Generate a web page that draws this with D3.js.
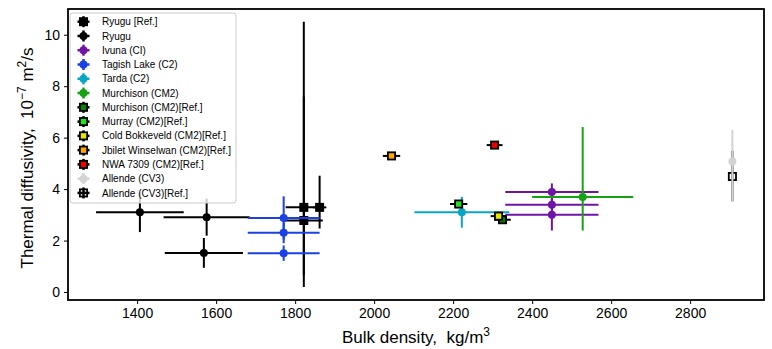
<!DOCTYPE html>
<html>
<head>
<meta charset="utf-8">
<script src="https://cdn.jsdelivr.net/npm/d3@7"></script>
<style>
  body { margin: 0; background: #fff; }
  svg { display: block; font-family: "Liberation Sans", Arial, sans-serif; }
</style>
</head>
<body>
<div id="chart"></div>
<script>
// each point: [x, y, xMinus, xPlus, yMinus, yPlus]
const ryuguRef = [[1822, 3.29, 46, 46, 3.09, 7.21], [1822, 2.78, 48, 48, 2.13, 4.82], [1862, 3.29, 17, 17, 0.82, 1.23]];
const ryugu = [[1407, 3.1, 111, 111, 0.77, 0.77], [1576, 2.91, 109, 109, 0.72, 0.72], [1569, 1.52, 99, 99, 0.58, 0.58]];
const ivuna = [[2450, 3.89, 118, 118, 0.33, 0.33], [2450, 3.39, 118, 118, 0.3, 0.3], [2450, 3.0, 118, 118, 0.61, 0.61]];
const tagishLake = [[1771, 2.88, 91, 91, 0.84, 0.84], [1771, 2.30, 91, 91, 0.4, 0.4], [1771, 1.51, 91, 91, 0.3, 0.3]];
const tarda = [[2222, 3.1, 120, 120, 0.6, 0.6]];
const murchison = [[2528, 3.69, 128, 128, 1.3, 2.72]];
const murchisonRef = [[2325, 2.81, 21, 21, 0, 0]];
const murrayRef = [[2214, 3.42, 22, 22, 0, 0]];
const coldBokkeveldRef = [[2315, 2.95, 20, 20, 0, 0]];
const jbiletRef = [[2044, 5.29, 22, 22, 0, 0]];
const nwa7309Ref = [[2305, 5.71, 20, 20, 0, 0]];
const allende = [[2907, 5.07, 0, 0, 1.57, 1.23]];
const allendeRef = [[2907, 4.49, 0, 0, 0.96, 1.0]];

const seriesNames = ["Ryugu [Ref.]", "Ryugu", "Ivuna (CI)", "Tagish Lake (C2)", "Tarda (C2)", "Murchison (CM2)",
  "Murchison (CM2)[Ref.]", "Murray (CM2)[Ref.]", "Cold Bokkeveld (CM2)[Ref.]", "Jbilet Winselwan (CM2)[Ref.]",
  "NWA 7309 (CM2)[Ref.]", "Allende (CV3)", "Allende (CV3)[Ref.]"];
const seriesData = [ryuguRef, ryugu, ivuna, tagishLake, tarda, murchison, murchisonRef, murrayRef,
  coldBokkeveldRef, jbiletRef, nwa7309Ref, allende, allendeRef];

const xTicks = [1400, 1600, 1800, 2000, 2200, 2400, 2600, 2800];
const yTicks = [0, 2, 4, 6, 8, 10];

// styles
const barColor = ["#000", "#000", "#7014a8", "#1a40e6", "#08a6c4", "#15a315", "#000", "#000", "#000", "#000", "#000", "#d3d3d3", "#000"];
const markFill = ["#000", "#000", "#7014a8", "#1a40e6", "#08a6c4", "#15a315", "#0a800a", "#22e022", "#e6e600", "#ffa500", "#f00000", "#d3d3d3", "none"];
const isRef = seriesNames.map(d => d.indexOf("Ref") >= 0);
// draw Allende ref before Allende so the grey bar shows through
const drawOrder = [0, 1, 2, 3, 4, 5, 6, 7, 8, 9, 10, 12, 11];

const W = 772, H = 349;
const margin = { top: 9, right: 8, bottom: 49, left: 68 };

const svg = d3.select("#chart").append("svg")
  .attr("width", W).attr("height", H);

const x = d3.scaleLinear().domain([1225, 2987]).range([margin.left, W - margin.right]);
const y = d3.scaleLinear().domain([-0.31, 11.0]).range([H - margin.bottom, margin.top]);

const plot = svg.append("g");

function drawPoint(g, p, i, cx, cy) {
  const col = barColor[i];
  // x error
  if (p[2] + p[3] > 0) {
    g.append("line")
      .attr("x1", cx(p[0] - p[2])).attr("x2", cx(p[0] + p[3]))
      .attr("y1", cy(p[1])).attr("y2", cy(p[1]))
      .attr("stroke", col).attr("stroke-width", 2);
  }
  if (p[4] + p[5] > 0) {
    g.append("line")
      .attr("x1", cx(p[0])).attr("x2", cx(p[0]))
      .attr("y1", cy(p[1] - p[4])).attr("y2", cy(p[1] + p[5]))
      .attr("stroke", col).attr("stroke-width", 2);
  }
}

function drawMarker(g, i, px, py) {
  if (isRef[i]) {
    g.append("rect")
      .attr("x", px - 3.6).attr("y", py - 3.6)
      .attr("width", 7.2).attr("height", 7.2)
      .attr("fill", markFill[i]).attr("stroke", "#000").attr("stroke-width", 1.8);
  } else {
    g.append("circle")
      .attr("cx", px).attr("cy", py).attr("r", 4)
      .attr("fill", markFill[i]);
  }
}

drawOrder.forEach(i => {
  const g = plot.append("g");
  seriesData[i].forEach(p => drawPoint(g, p, i, x, y));
  seriesData[i].forEach(p => drawMarker(g, i, x(p[0]), y(p[1])));
});

// axes
const xAxis = svg.append("g")
  .attr("transform", "translate(0," + (H - margin.bottom) + ")")
  .call(d3.axisBottom(x).tickValues(xTicks).tickSize(4).tickPadding(4).tickFormat(d3.format("d")));
const yAxis = svg.append("g")
  .attr("transform", "translate(" + margin.left + ",0)")
  .call(d3.axisLeft(y).tickValues(yTicks).tickSize(4).tickPadding(4));
[xAxis, yAxis].forEach(a => {
  a.select(".domain").remove();
  a.selectAll("text").attr("font-size", 14).attr("fill", "#000")
    .attr("font-family", "Liberation Sans, Arial, sans-serif");
  a.selectAll("line").attr("stroke", "#000").attr("stroke-width", 1);
});

// frame
svg.append("rect")
  .attr("x", margin.left).attr("y", margin.top)
  .attr("width", W - margin.left - margin.right)
  .attr("height", H - margin.top - margin.bottom)
  .attr("fill", "none").attr("stroke", "#000").attr("stroke-width", 1.8);

// axis labels
const xl = svg.append("text")
  .attr("x", (margin.left + W - margin.right) / 2).attr("y", 343)
  .attr("text-anchor", "middle").attr("font-size", 17);
xl.append("tspan").text("Bulk density,\u00a0\u00a0kg/m");
xl.append("tspan").attr("baseline-shift", "super").attr("font-size", 12).text("3");

const yl = svg.append("text")
  .attr("transform", "translate(33," + 158 + ") rotate(-90)")
  .attr("text-anchor", "middle").attr("font-size", 17);
yl.append("tspan").text("Thermal diffusivity,\u00a0\u00a010");
yl.append("tspan").attr("baseline-shift", "super").attr("font-size", 12).text("\u22127");
yl.append("tspan").text("\u00a0m");
yl.append("tspan").attr("baseline-shift", "super").attr("font-size", 12).text("2");
yl.append("tspan").text("/s");

// legend
const leg = svg.append("g");
leg.append("rect")
  .attr("x", 70).attr("y", 13).attr("width", 166).attr("height", 190).attr("rx", 3)
  .attr("fill", "#fff").attr("fill-opacity", 0.8)
  .attr("stroke", "#ccc").attr("stroke-width", 1);
seriesNames.forEach((name, i) => {
  const ly = 21.7 + i * 14.27;
  const lx = 83.5;
  leg.append("line").attr("x1", lx - 6).attr("x2", lx + 6).attr("y1", ly).attr("y2", ly)
    .attr("stroke", barColor[i]).attr("stroke-width", 2.5);
  leg.append("line").attr("x1", lx).attr("x2", lx).attr("y1", ly - 5.5).attr("y2", ly + 5.5)
    .attr("stroke", barColor[i]).attr("stroke-width", 2.5);
  drawMarker(leg, i, lx, ly);
  leg.append("text").attr("x", 102).attr("y", ly + 3.6)
    .attr("font-size", 10).attr("fill", "#000").text(name);
});
</script>
</body>
</html>
